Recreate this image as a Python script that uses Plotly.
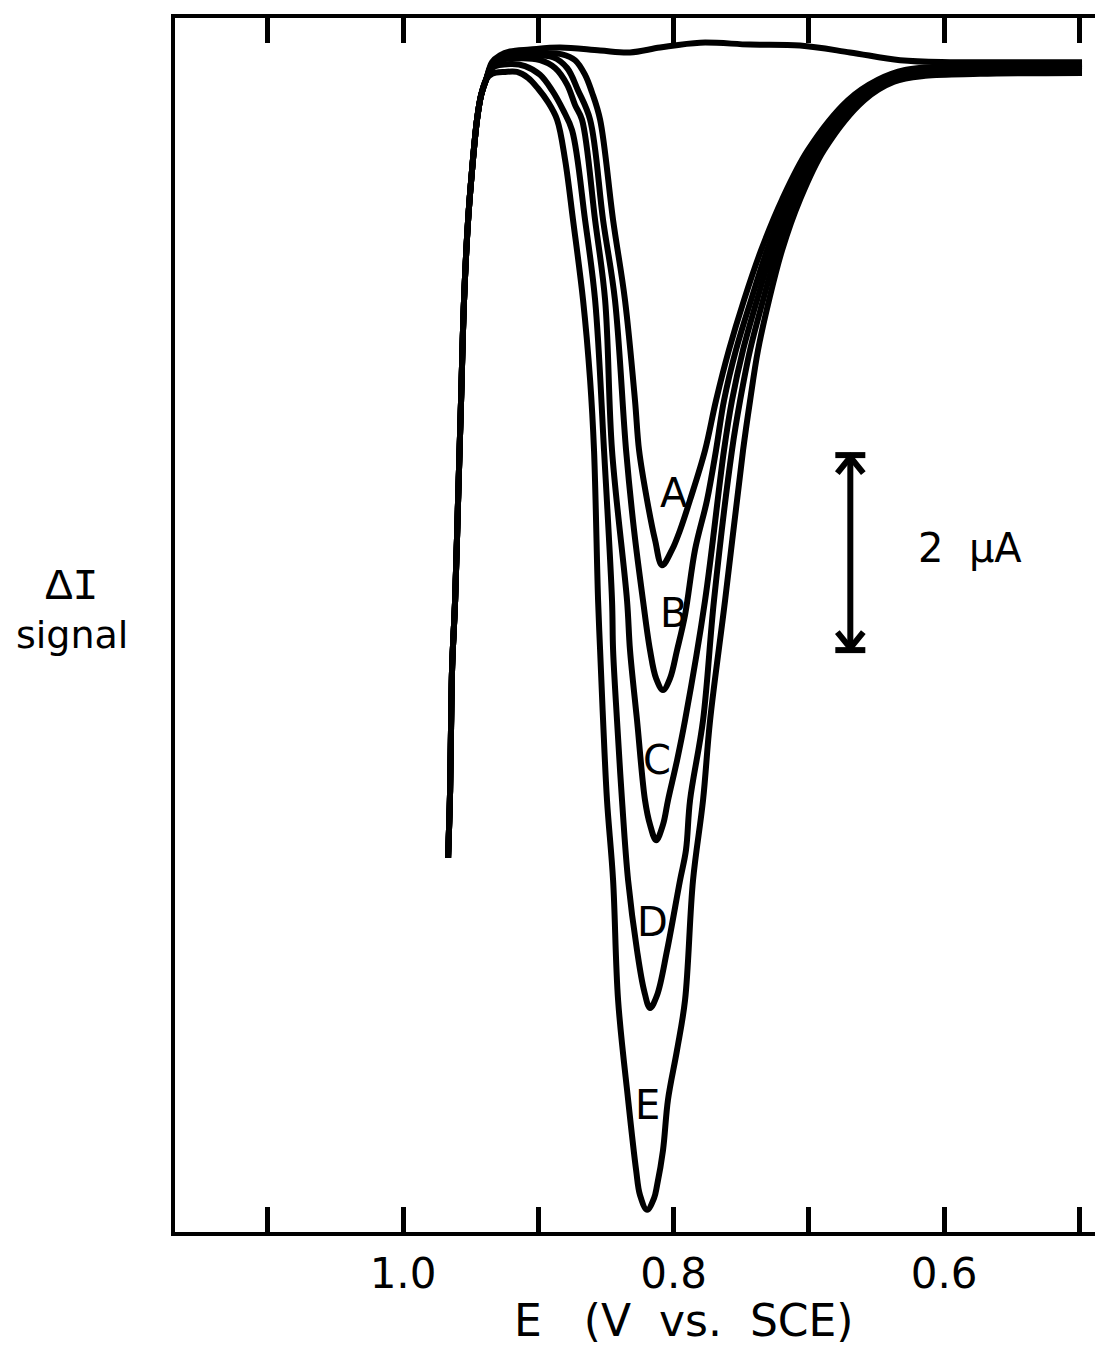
import plotly.graph_objects as go

# ---------------- data (E in V vs. SCE, delta-I in microampere) ----------------
# common rising segment at the start of every sweep
rise_E = [0.9667, 0.9652, 0.9645, 0.9637, 0.9615, 0.9593, 0.9571, 0.9549, 0.9519, 0.9490, 0.9453, 0.9423, 0.9386]
rise_I = [-8.10, -7.41, -6.76, -6.14, -5.46, -4.43, -3.41, -2.38, -1.56, -1.05, -0.53, -0.28, -0.12]

# background (blank) sweep
bg_E = [0.9342, 0.9283, 0.9209, 0.9061, 0.8839, 0.8543, 0.8322, 0.8100, 0.7804, 0.7434, 0.7065, 0.6695, 0.6325, 0.5956, 0.5586, 0.4980]
bg_I = [0.06, 0.13, 0.17, 0.19, 0.21, 0.18, 0.16, 0.21, 0.26, 0.24, 0.23, 0.16, 0.08, 0.06, 0.06, 0.06]

A_E = [0.9342, 0.9283, 0.9172, 0.8987, 0.8824, 0.8728, 0.8654, 0.8603, 0.8543, 0.8447,
       0.8359, 0.8285, 0.8255, 0.8196, 0.8137, 0.8085, 0.8011, 0.7952, 0.7878, 0.7767,
       0.7686, 0.7590, 0.7479, 0.7353, 0.7198, 0.7006, 0.6710, 0.6488, 0.6288, 0.5956,
       0.5586, 0.4980]
A_I = [0.04, 0.11, 0.14, 0.15, 0.14, 0.08, -0.07, -0.25, -0.53, -1.56,
       -2.38, -3.41, -3.92, -4.43, -4.84, -5.10, -4.94, -4.74, -4.43, -3.92,
       -3.41, -2.89, -2.38, -1.87, -1.35, -0.84, -0.33, -0.12, -0.02, 0.02,
       0.03, 0.04]

B_E = [0.9320, 0.9061, 0.8891, 0.8787, 0.8706, 0.8617, 0.8521, 0.8433, 0.8351, 0.8292,
       0.8226, 0.8174, 0.8129, 0.8078, 0.8026, 0.7974, 0.7915, 0.7841, 0.7752, 0.7686,
       0.7627, 0.7538, 0.7427, 0.7309, 0.7161, 0.6976, 0.6680, 0.6458, 0.6251, 0.5956,
       0.5586, 0.4980]
B_I = [0.08, 0.13, 0.11, 0.00, -0.23, -0.53, -1.56, -2.38, -3.92, -4.74,
       -5.46, -5.97, -6.26, -6.38, -6.26, -5.97, -5.61, -4.94, -4.43, -3.92,
       -3.41, -2.89, -2.38, -1.87, -1.35, -0.84, -0.33, -0.12, -0.04, 0.00,
       0.01, 0.02]

C_E = [0.9320, 0.9135, 0.8987, 0.8876, 0.8787, 0.8728, 0.8677, 0.8580, 0.8506, 0.8455,
       0.8344, 0.8322, 0.8270, 0.8211, 0.8174, 0.8129, 0.8078, 0.8041, 0.7974, 0.7915,
       0.7767, 0.7627, 0.7568, 0.7486, 0.7383, 0.7272, 0.7131, 0.6947, 0.6651, 0.6429,
       0.6214, 0.5882, 0.4980]
C_I = [0.06, 0.10, 0.08, 0.00, -0.17, -0.38, -0.53, -1.56, -2.38, -3.92,
       -5.46, -5.97, -6.69, -7.51, -7.76, -7.92, -7.76, -7.51, -7.10, -6.69,
       -5.46, -3.92, -3.41, -2.89, -2.38, -1.87, -1.35, -0.84, -0.33, -0.12,
       -0.04, -0.01, 0.00]

D_E = [0.9342, 0.9209, 0.9098, 0.8987, 0.8898, 0.8817, 0.8750, 0.8654, 0.8580, 0.8514,
       0.8455, 0.8447, 0.8418, 0.8381, 0.8336, 0.8270, 0.8218, 0.8174, 0.8122, 0.8048,
       0.7952, 0.7908, 0.7878, 0.7782, 0.7701, 0.7568, 0.7508, 0.7434, 0.7338, 0.7235,
       0.7102, 0.6917, 0.6621, 0.6399, 0.6177, 0.5808, 0.4980]
D_I = [0.00, 0.04, 0.02, -0.07, -0.23, -0.43, -0.64, -1.56, -2.38, -3.92,
       -5.46, -5.97, -6.69, -7.51, -8.33, -9.05, -9.46, -9.64, -9.51, -9.05,
       -8.33, -8.02, -7.51, -6.69, -5.46, -3.92, -3.41, -2.89, -2.38, -1.87,
       -1.35, -0.84, -0.33, -0.12, -0.06, -0.03, -0.02]

E_E = [0.9342, 0.9246, 0.9157, 0.9076, 0.9002, 0.8928, 0.8861, 0.8802, 0.8743, 0.8669,
       0.8617, 0.8588, 0.8558, 0.8543, 0.8521, 0.8492, 0.8447, 0.8410, 0.8336, 0.8277,
       0.8248, 0.8196, 0.8144, 0.8122, 0.8078, 0.8041, 0.7974, 0.7915, 0.7856, 0.7782,
       0.7730, 0.7619, 0.7486, 0.7434, 0.7375, 0.7294, 0.7198, 0.7065, 0.6887, 0.6591,
       0.6370, 0.6140, 0.5734, 0.4980]
E_I = [-0.06, -0.04, -0.04, -0.10, -0.21, -0.35, -0.53, -0.94, -1.56, -2.38,
       -3.20, -3.92, -5.46, -5.97, -6.69, -7.51, -8.33, -9.56, -10.58, -11.30,
       -11.56, -11.71, -11.59, -11.46, -11.10, -10.58, -10.07, -9.56, -8.33, -7.51,
       -6.69, -5.46, -3.92, -3.41, -2.89, -2.38, -1.87, -1.35, -0.84, -0.33,
       -0.14, -0.08, -0.06, -0.05]

label_names = ["A", "B", "C", "D", "E"]
label_E = [0.7997, 0.7997, 0.8122, 0.8159, 0.8189]
label_I = [-4.36, -5.59, -7.10, -8.76, -10.64]

tick_vals = [1.1, 1.0, 0.9, 0.8, 0.7, 0.6, 0.5]
tick_text = ["", "1.0", "", "0.8", "", "0.6", ""]

scale_E = 0.6693      # position of the 2 uA scale bar
scale_top = -3.97
scale_len = 2.0       # uA
scale_text = "2\u00a0\u00a0\u00b5A"

x_range = [1.1686, 0.4884]
y_range = [-11.938, 0.513]

# ---------------- figure ----------------
FONT = "DejaVu Sans"
LW = 6

fig = go.Figure()
series = [(bg_E, bg_I), (A_E, A_I), (B_E, B_I), (C_E, C_I), (D_E, D_I), (E_E, E_I)]
for xs, ys in series:
    assert len(xs) == len(ys)
    fig.add_trace(go.Scatter(
        x=rise_E + xs, y=rise_I + ys, mode="lines",
        line=dict(color="black", width=LW, shape="spline", smoothing=1.0),
        hoverinfo="skip", showlegend=False))

# curve letters
for n, xe, yi in zip(label_names, label_E, label_I):
    fig.add_annotation(x=xe, y=yi, text=n, showarrow=False,
                       xanchor="center", yanchor="middle",
                       font=dict(family=FONT, size=40, color="black"))

# scale bar (offsets are visual styling, derived from axis scale)
px_per_V = 920 / (x_range[0] - x_range[1])
px_per_uA = 1214 / (y_range[1] - y_range[0])
cap = 15 / px_per_V
arm_x = 13 / px_per_V
arm_y = 18 / px_per_uA
tip = 2 / px_per_uA
bot = scale_top - scale_len
shapes = [
    dict(type="line", x0=scale_E, x1=scale_E, y0=scale_top, y1=bot),
    dict(type="line", x0=scale_E - cap, x1=scale_E + cap, y0=scale_top, y1=scale_top),
    dict(type="line", x0=scale_E - cap, x1=scale_E + cap, y0=bot, y1=bot),
    dict(type="path", path=f"M {scale_E - arm_x} {scale_top - arm_y} L {scale_E} {scale_top - tip} L {scale_E + arm_x} {scale_top - arm_y}"),
    dict(type="path", path=f"M {scale_E - arm_x} {bot + arm_y} L {scale_E} {bot + tip} L {scale_E + arm_x} {bot + arm_y}"),
]
for s in shapes:
    s.update(xref="x", yref="y", line=dict(color="black", width=LW))
    fig.add_shape(**s)

fig.add_annotation(x=0.5808, y=(scale_top + bot) / 2 + 0.05, text=scale_text, showarrow=False,
                   xanchor="center", yanchor="middle",
                   font=dict(family=FONT, size=40, color="black"))

# y label
fig.add_annotation(xref="paper", yref="paper", x=-0.112, y=0.513,
                   text='<span style="font-family:Liberation Mono;font-size:44px">\u0394I</span><br>signal',
                   xanchor="center", yanchor="middle", align="center",
                   showarrow=False, font=dict(family=FONT, size=38, color="black"))
# x title
fig.add_annotation(xref="paper", yref="paper", x=0.553, y=-0.0725,
                   text="E\u00a0\u00a0\u00a0(V\u00a0\u00a0vs.\u00a0\u00a0SCE)", showarrow=False,
                   xanchor="center", yanchor="middle",
                   font=dict(family=FONT, size=44, color="black"))

fig.update_layout(
    width=1095, height=1354,
    margin=dict(l=175, r=0, t=18, b=122),
    paper_bgcolor="white", plot_bgcolor="white",
    showlegend=False,
)
fig.update_xaxes(range=x_range, showgrid=False, zeroline=False,
                 showline=True, linecolor="black", linewidth=4, mirror="ticks",
                 ticks="inside", ticklen=25, tickwidth=5, tickcolor="black",
                 tickvals=tick_vals, ticktext=tick_text, ticklabelstandoff=2,
                 tickfont=dict(family=FONT, size=42, color="black"))
fig.update_yaxes(range=y_range, showgrid=False, zeroline=False,
                 showline=True, linecolor="black", linewidth=4, mirror=False,
                 ticks="", showticklabels=False)

fig.write_html("out.html")
